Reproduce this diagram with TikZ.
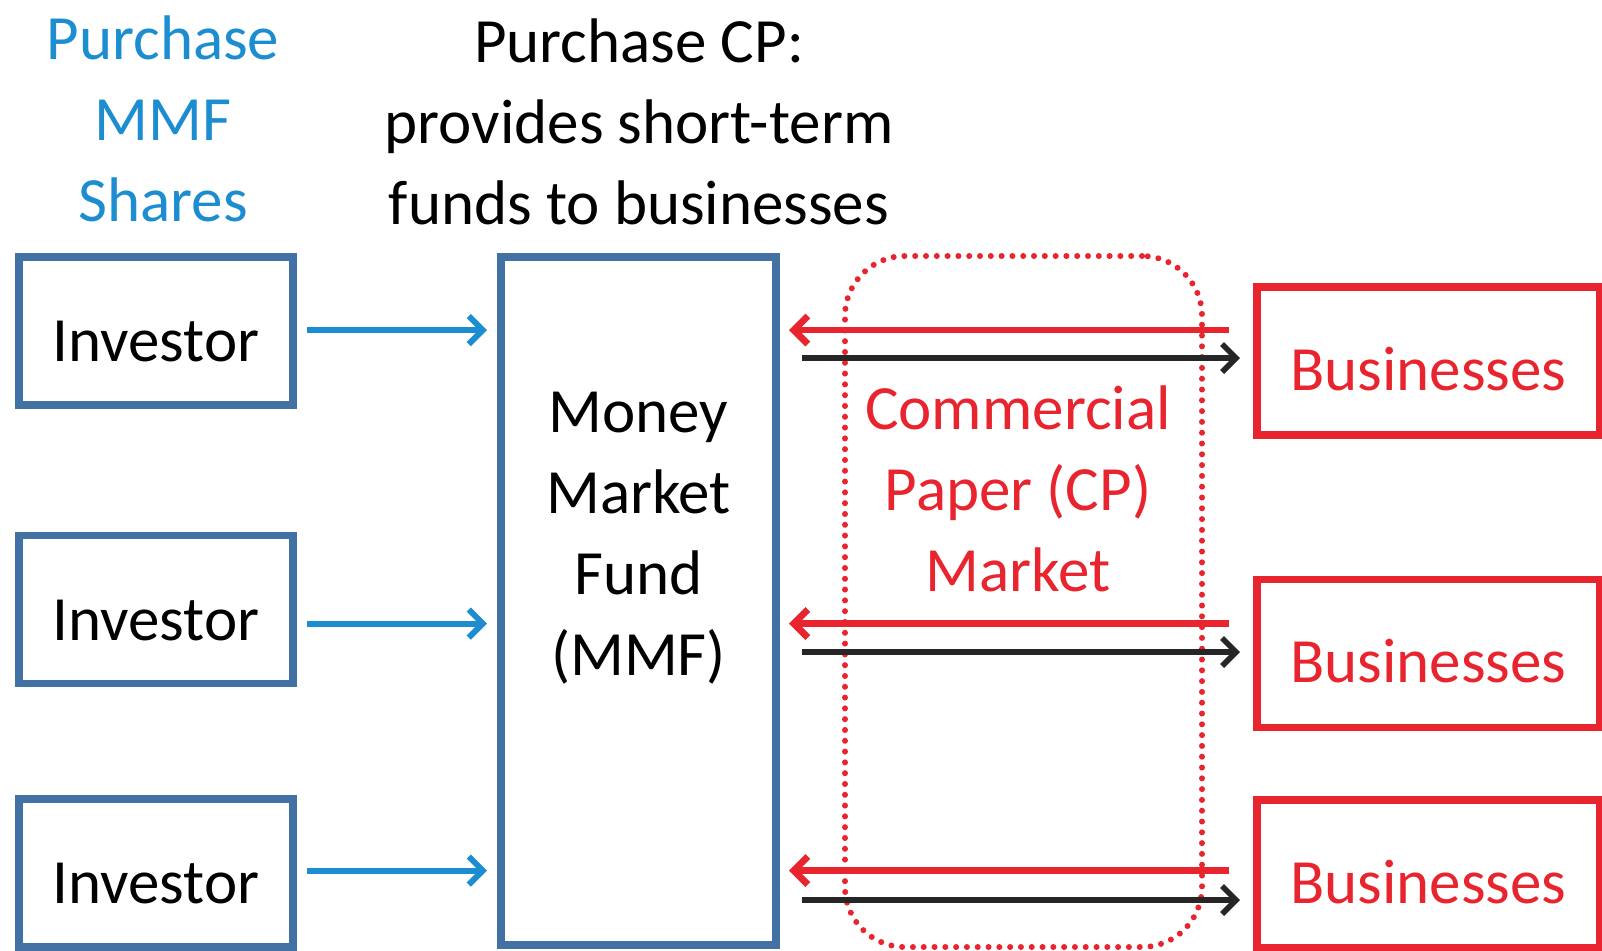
\documentclass[tikz,border=0pt]{standalone}
\usepackage{fontspec}
\setmainfont{Carlito}
\usetikzlibrary{arrows.meta}
\definecolor{boxblue}{RGB}{66,114,163}
\definecolor{linkblue}{RGB}{28,141,208}
\definecolor{cpred}{RGB}{232,36,46}
\definecolor{darkline}{RGB}{38,38,38}
\tikzset{
  big/.style={font=\fontsize{31.5}{40.5}\selectfont},
  heading/.style={big, align=center, inner sep=0pt},
  investor/.style={big, draw=boxblue, line width=3.6pt, minimum width=137pt,
    minimum height=74pt, inner sep=0pt, outer sep=0pt, text height=30.5pt, text depth=0pt},
  business/.style={big, draw=cpred, text=cpred, line width=3.6pt, minimum width=171.5pt,
    minimum height=74pt, inner sep=0pt, outer sep=0pt, text height=29pt, text depth=0pt},
  fundbox/.style={draw=boxblue, line width=3.6pt, minimum width=137.5pt,
    minimum height=344pt, inner sep=0pt, outer sep=0pt},
  cpmarket/.style={draw=cpred, line width=3pt, line cap=round, dash pattern=on 0pt off 5.4pt,
    rounded corners=30pt, minimum width=178.5pt, minimum height=345.5pt, inner sep=0pt},
  barb/.style={-{Straight Barb[length=7pt,width=14pt]}}
}
\begin{document}
\begin{tikzpicture}[x=0.5pt,y=-0.5pt]
  \useasboundingbox (0,0) rectangle (1602,950);
  % headings
  \node (buyshares) at (163,119) [heading, text=linkblue] {Purchase\\MMF\\Shares};
  \node (buycp) at (639,122) [heading] {Purchase CP:\\provides short-term\\funds to businesses};
  % investors and the fund
  \node (inv1) at (156,331) [investor] {Investor};
  \node (inv2) at (156,609.5) [investor] {Investor};
  \node (inv3) at (156,873) [investor] {Investor};
  \node (mmf) at (638.5,601) [fundbox] {};
  \node (mmftext) at (638.5,538) [heading] {Money\\Market\\Fund\\(MMF)};
  % the CP market and the businesses
  \node (market) at (1023.5,601.5) [cpmarket] {};
  \node (markettext) at (1018,489) [heading, text=cpred] {Commercial\\Paper (CP)\\Market};
  \node (bus1) at (1428.5,361) [business] {Businesses};
  \node (bus2) at (1428.5,653.5) [business] {Businesses};
  \node (bus3) at (1428.5,874) [business] {Businesses};
  % rows of the arrows
  \coordinate (up1) at (0,330);
  \coordinate (up2) at (0,623.5);
  \coordinate (up3) at (0,870.5);
  \coordinate (low1) at (0,358);
  \coordinate (low2) at (0,652);
  \coordinate (low3) at (0,900);
  \begin{scope}[barb, linkblue, line width=3pt, shorten <=7pt, shorten >=7pt]
    \draw (inv1.east |- up1) -- (mmf.west |- up1);
    \draw (inv2.east |- up2) -- (mmf.west |- up2);
    \draw (inv3.east |- up3) -- (mmf.west |- up3);
  \end{scope}
  \begin{scope}[barb, cpred, line width=3.4pt, shorten <=14pt, shorten >=6.5pt]
    \draw (bus1.west |- up1) -- (mmf.east |- up1);
    \draw (bus2.west |- up2) -- (mmf.east |- up2);
    \draw (bus3.west |- up3) -- (mmf.east |- up3);
  \end{scope}
  \begin{scope}[barb, darkline, line width=2.8pt, shorten <=13pt, shorten >=8.5pt]
    \draw (mmf.east |- low1) -- (bus1.west |- low1);
    \draw (mmf.east |- low2) -- (bus2.west |- low2);
    \draw (mmf.east |- low3) -- (bus3.west |- low3);
  \end{scope}
\end{tikzpicture}
\end{document}
